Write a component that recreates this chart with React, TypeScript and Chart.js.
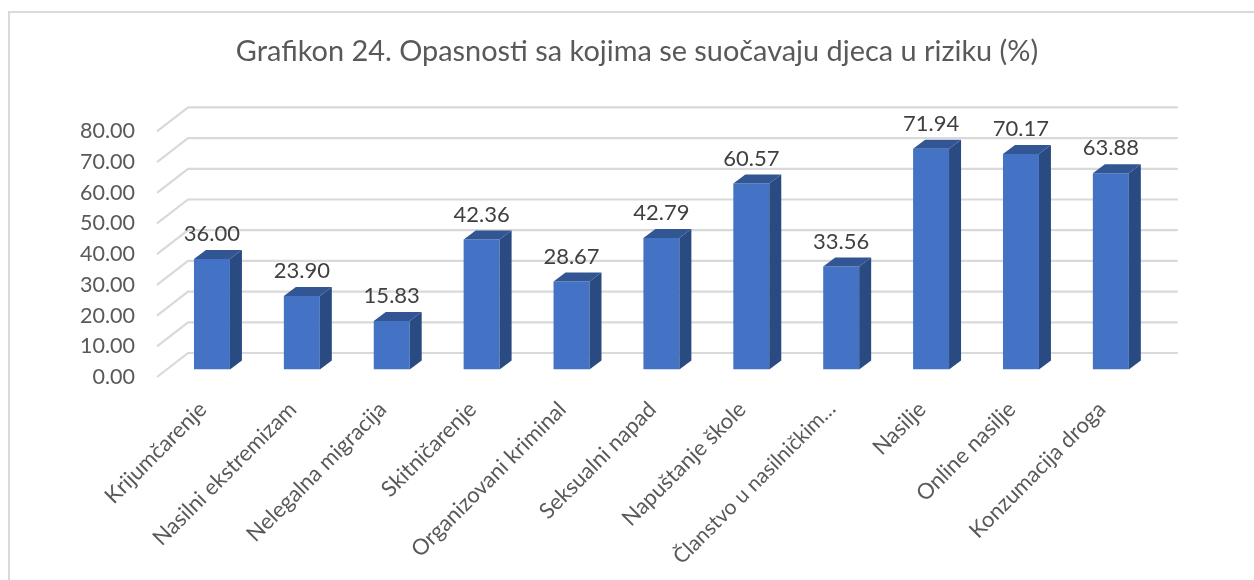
import React, { useEffect, useRef } from "react";
import { Chart, registerables } from "chart.js";

Chart.register(...registerables);

const categories = [
  "Krijumčarenje",
  "Nasilni ekstremizam",
  "Nelegalna migracija",
  "Skitničarenje",
  "Organizovani kriminal",
  "Seksualni napad",
  "Napuštanje škole",
  "Članstvo u nasilničkim…",
  "Nasilje",
  "Online nasilje",
  "Konzumacija droga",
];
const values = [36.0, 23.9, 15.83, 42.36, 28.67, 42.79, 60.57, 33.56, 71.94, 70.17, 63.88];
const chartTitle = "Grafikon 24. Opasnosti sa kojima se suočavaju djeca u riziku (%)";

const FONT = "Lato";
const DEPTH_X = 12;
const DEPTH_Y = 9;

const threeD = {
  id: "threeD",
  beforeDatasetsDraw(chart: any) {
    const { ctx, chartArea, scales } = chart;
    const y = scales.y;
    ctx.save();
    ctx.strokeStyle = "#d9d9d9";
    ctx.lineWidth = 2.2;
    for (const t of y.ticks) {
      const p = y.getPixelForValue(t.value);
      ctx.beginPath();
      ctx.moveTo(chartArea.left - 10, p + 7.5);
      ctx.lineTo(chartArea.left + 21, p - 16.5);
      ctx.lineTo(chartArea.right + 22, p - 16.5);
      ctx.stroke();
    }
    ctx.restore();
  },
  afterDatasetsDraw(chart: any) {
    const { ctx } = chart;
    const meta = chart.getDatasetMeta(0);
    ctx.save();
    meta.data.forEach((el: any, i: number) => {
      const l = el.x - el.width / 2;
      const r = el.x + el.width / 2;
      const top = el.y;
      const base = el.base;
      ctx.fillStyle = "#2a4a82";
      ctx.beginPath();
      ctx.moveTo(r, top);
      ctx.lineTo(r + DEPTH_X, top - DEPTH_Y);
      ctx.lineTo(r + DEPTH_X, base - DEPTH_Y);
      ctx.lineTo(r, base);
      ctx.closePath();
      ctx.fill();
      ctx.fillStyle = "#325594";
      ctx.beginPath();
      ctx.moveTo(l, top);
      ctx.lineTo(l + DEPTH_X, top - DEPTH_Y);
      ctx.lineTo(r + DEPTH_X, top - DEPTH_Y);
      ctx.lineTo(r, top);
      ctx.closePath();
      ctx.fill();
      ctx.fillStyle = "#404040";
      ctx.font = `22px ${FONT}`;
      ctx.textAlign = "center";
      ctx.textBaseline = "middle";
      ctx.fillText(values[i].toFixed(2), el.x, top - 25);
    });
    ctx.restore();
  },
};

export default function App() {
  const ref = useRef<HTMLCanvasElement>(null);
  useEffect(() => {
    const chart = new Chart(ref.current!, {
      type: "bar",
      data: {
        labels: categories,
        datasets: [
          {
            data: values,
            backgroundColor: "#4472c4",
            borderWidth: 0,
            barPercentage: 0.4,
            categoryPercentage: 1,
          },
        ],
      },
      plugins: [threeD],
      options: {
        animation: false,
        responsive: false,
        layout: { padding: { left: 20, right: 0, top: 0, bottom: 0 } },
        plugins: {
          legend: { display: false },
          tooltip: { enabled: false },
          title: {
            display: true,
            text: chartTitle,
            color: "#595959",
            font: { family: FONT, size: 28.9, weight: "normal", lineHeight: 1.2 },
            padding: { top: 34.65, bottom: 54.55 },
          },
        },
        scales: {
          x: {
            grid: { display: false },
            border: { display: false },
            afterFit: (s: any) => {
              s.height = 210.5;
            },
            ticks: {
              autoSkip: false,
              maxRotation: 45,
              minRotation: 45,
              padding: 19,
              labelOffset: -9,
              color: "#595959",
              font: (c: any) => ({ family: FONT, size: c.index === 7 ? 21 : 22 }),
            },
          },
          y: {
            min: 0,
            max: 80,
            grid: { display: false, drawTicks: false },
            border: { display: false },
            afterFit: (s: any) => {
              s.width = 147;
            },
            ticks: {
              stepSize: 10,
              padding: 32,
              labelOffset: 7.5,
              color: "#595959",
              font: { family: FONT, size: 21.5 },
              callback: (v: any) => Number(v).toFixed(2),
            },
          },
          spacer: {
            position: "right",
            grid: { display: false },
            border: { display: false },
            ticks: { display: false },
            afterFit: (s: any) => {
              s.width = 98.2;
            },
          },
        },
      } as any,
    });
    return () => chart.destroy();
  }, []);
  return (
    <div style={{ position: "absolute", left: 0, top: 0, width: 1254, height: 580, overflow: "hidden", background: "#fff" }}>
      <div
        style={{
          position: "absolute",
          left: 8,
          top: 11,
          right: 0,
          bottom: 0,
          borderLeft: "2px solid #d9d9d9",
          borderTop: "2px solid #d9d9d9",
        }}
      />
      <canvas ref={ref} width={1254} height={580} style={{ position: "absolute", left: 0, top: 0 }} />
    </div>
  );
}
